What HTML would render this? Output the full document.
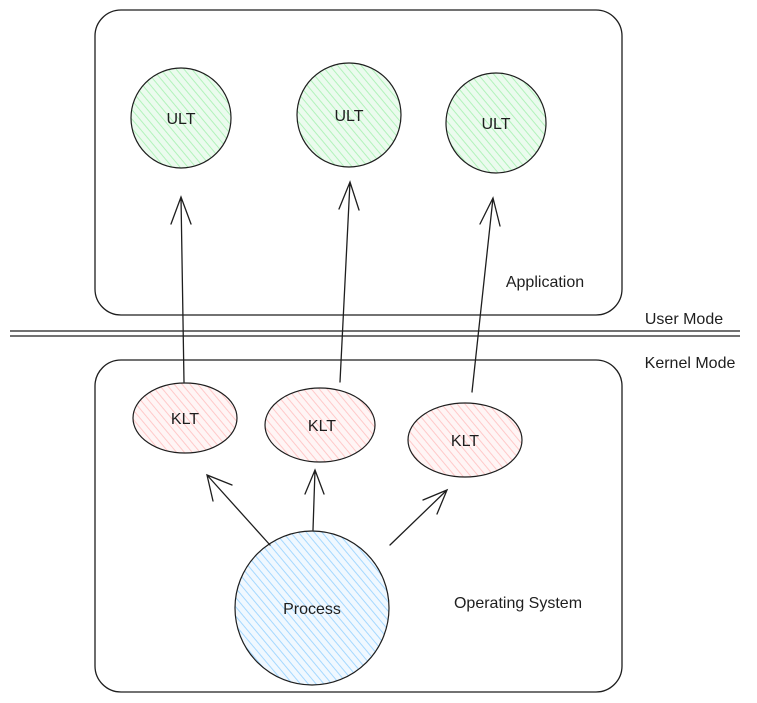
<!DOCTYPE html>
<html><head><meta charset="utf-8"><style>
html,body{margin:0;padding:0;background:#fff;}
svg{display:block;}
text{font-family:"Liberation Sans",sans-serif;font-size:16px;fill:#1e1e1e;}
</style></head><body>
<svg width="757" height="703" viewBox="0 0 757 703" xmlns="http://www.w3.org/2000/svg">
<defs>
<pattern id="hg" width="6" height="6" patternUnits="userSpaceOnUse" patternTransform="rotate(-40)">
<rect width="6" height="6" fill="#ebfbee"/><line x1="0" y1="0" x2="0" y2="6" stroke="#b2f2bb" stroke-width="2"/></pattern>
<pattern id="hr" width="6" height="6" patternUnits="userSpaceOnUse" patternTransform="rotate(-40)">
<rect width="6" height="6" fill="#fff5f5"/><line x1="0" y1="0" x2="0" y2="6" stroke="#ffc9c9" stroke-width="2"/></pattern>
<pattern id="hb" width="6" height="6" patternUnits="userSpaceOnUse" patternTransform="rotate(-40)">
<rect width="6" height="6" fill="#f0f8ff"/><line x1="0" y1="0" x2="0" y2="6" stroke="#a5d8ff" stroke-width="2"/></pattern>
</defs>
<g fill="none" stroke="#1e1e1e" stroke-width="1.3">
<rect x="95" y="10" width="527" height="305" rx="26"/>
<rect x="95" y="360" width="527" height="332" rx="26"/>
<line x1="10" y1="331" x2="740" y2="331"/>
<line x1="10" y1="336" x2="740" y2="336"/>
</g>
<g stroke="#1e1e1e" stroke-width="1.2">
<circle cx="181" cy="118" r="50" fill="url(#hg)"/>
<circle cx="349" cy="115" r="52" fill="url(#hg)"/>
<circle cx="496" cy="123" r="50" fill="url(#hg)"/>
<ellipse cx="185" cy="418" rx="52" ry="35" fill="url(#hr)"/>
<ellipse cx="320" cy="425" rx="55" ry="37" fill="url(#hr)"/>
<ellipse cx="465" cy="440" rx="57" ry="37" fill="url(#hr)"/>
<circle cx="312" cy="608" r="77" fill="url(#hb)"/>
</g>
<g fill="none" stroke="#1e1e1e" stroke-width="1.3" stroke-linecap="round">
<path d="M184 382 L181 197 M171 224 L181 197 L191 224"/>
<path d="M340 382 L350 182 M339 209 L350 182 L359 210"/>
<path d="M472 392 L493 198 M480 224 L493 198 L500 226"/>
<path d="M270 545 L207 475 M213 501 L207 475 L232 485"/>
<path d="M313 530 L315 470 M305 494 L315 470 L324 494"/>
<path d="M390 545 L447 490 M423 500 L447 490 L437 514"/>
</g>
<g text-anchor="middle">
<text x="181" y="124">ULT</text>
<text x="349" y="121">ULT</text>
<text x="496" y="129">ULT</text>
<text x="185" y="424">KLT</text>
<text x="322" y="431">KLT</text>
<text x="465" y="446">KLT</text>
<text x="312" y="614">Process</text>
<text x="545" y="287">Application</text>
<text x="684" y="324">User Mode</text>
<text x="690" y="368">Kernel Mode</text>
<text x="518" y="608">Operating System</text>
</g>
</svg>
</body></html>
